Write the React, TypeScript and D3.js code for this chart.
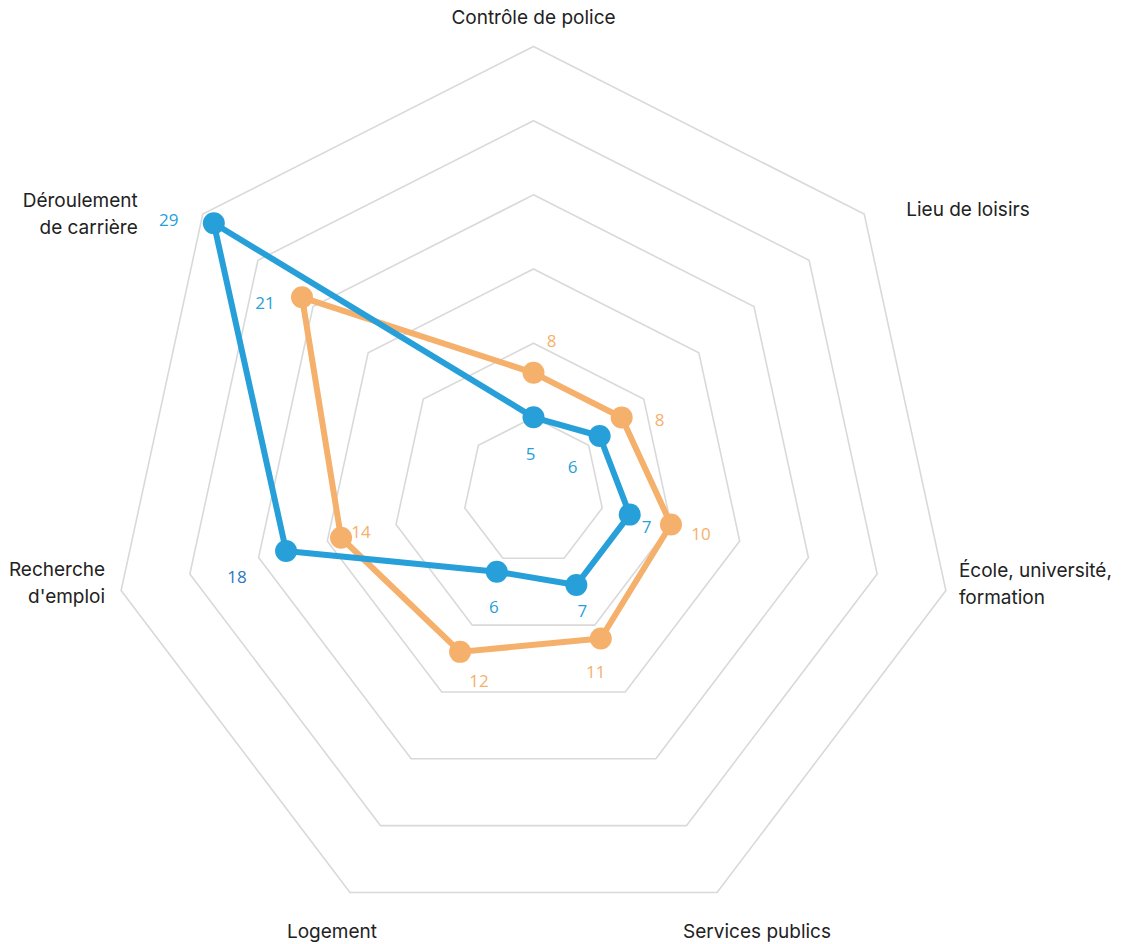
import React from "react";
import * as d3 from "d3";

const categories = [
  ["Contrôle de police"],
  ["Lieu de loisirs"],
  ["École, université,", "formation"],
  ["Services publics"],
  ["Logement"],
  ["Recherche", "d'emploi"],
  ["Déroulement", "de carrière"],
];
const seriesBlue = [5, 6, 7, 7, 6, 18, 29];
const seriesOrange = [8, 8, 10, 11, 12, 14, 21];
const gridLevels = [5, 10, 15, 20, 25, 30];

// layout (not data)
const W = 1124, H = 944;
const CX = 533.5, CY = 491.5;
const RX = 423, RY = 445;
const BLUE = "#279fd9";
const ORANGE = "#f5b06c";
const catLabelLayout = [
  { dx: 0, dy: -30, anchor: "middle" },
  { dx: 42, dy: -5, anchor: "start" },
  { dx: 13, dy: -21, anchor: "start" },
  { dx: 40, dy: 39, anchor: "middle" },
  { dx: -18, dy: 39, anchor: "middle" },
  { dx: -16, dy: -22, anchor: "end" },
  { dx: -65, dy: -14, anchor: "end" },
];
const blueLabelOffsets = [[-3, 36], [-27, 30], [17, 12], [6, 25], [-3, 35], [-49, 26], [-45, -4]];
const orangeLabelOffsets = [[18, -32], [38, 2], [30, 9], [-5, 33], [19, 29], [20, -6], [-37, 5]];
const blueLabelColors = [BLUE, BLUE, BLUE, BLUE, BLUE, "#2b78bf", BLUE];
const orangeLabelColors = [ORANGE, ORANGE, ORANGE, ORANGE, ORANGE, ORANGE, BLUE];

export default function App() {
  const n = categories.length;
  const angle = d3.scaleLinear().domain([0, n]).range([0, 2 * Math.PI]);
  const rx = d3.scaleLinear().domain([0, 30]).range([0, RX]);
  const ry = d3.scaleLinear().domain([0, 30]).range([0, RY]);
  const pt = (i: number, v: number): [number, number] => {
    const a = angle(i);
    return [CX + Math.sin(a) * rx(v), CY - Math.cos(a) * ry(v)];
  };
  const line = d3.line<[number, number]>().curve(d3.curveLinearClosed);

  const series = [
    { values: seriesOrange, color: ORANGE, offsets: orangeLabelOffsets, labelColors: orangeLabelColors },
    { values: seriesBlue, color: BLUE, offsets: blueLabelOffsets, labelColors: blueLabelColors },
  ];

  return (
    <svg width={W} height={H} style={{ position: "absolute", left: 0, top: 0, background: "#fff" }}>
      <g>
        {gridLevels.map((lv) => (
          <path
            key={lv}
            d={line(d3.range(n).map((i) => pt(i, lv))) || ""}
            fill="none"
            stroke="#d9d9d9"
            strokeWidth={1.6}
          />
        ))}
      </g>
      <g fontFamily="Inter, Roboto, sans-serif" fontSize={19} fill="#222">
        {categories.map((lines, i) => {
          const [x, y] = pt(i, 30);
          const l = catLabelLayout[i];
          return (
            <text key={i} x={x + l.dx} y={y + l.dy} textAnchor={l.anchor} dominantBaseline="central">
              {lines.map((s, j) => (
                <tspan key={j} x={x + l.dx} dy={j === 0 ? 0 : 27}>
                  {s}
                </tspan>
              ))}
            </text>
          );
        })}
      </g>
      {series.map((s, si) => (
        <g key={si}>
          <path
            d={line(s.values.map((v, i) => pt(i, v))) || ""}
            fill="none"
            stroke={s.color}
            strokeWidth={6}
            strokeLinejoin="round"
          />
          {s.values.map((v, i) => {
            const [x, y] = pt(i, v);
            return <circle key={i} cx={x} cy={y} r={11} fill={s.color} />;
          })}
        </g>
      ))}
      {series.map((s, si) => (
        <g key={"l" + si} fontFamily="'Open Sans', sans-serif" fontSize={17}>
          {s.values.map((v, i) => {
            const [x, y] = pt(i, v);
            const [dx, dy] = s.offsets[i];
            return (
              <text
                key={i}
                x={x + dx}
                y={y + dy}
                textAnchor="middle"
                dominantBaseline="central"
                fill={s.labelColors[i]}
              >
                {v}
              </text>
            );
          })}
        </g>
      ))}
    </svg>
  );
}
